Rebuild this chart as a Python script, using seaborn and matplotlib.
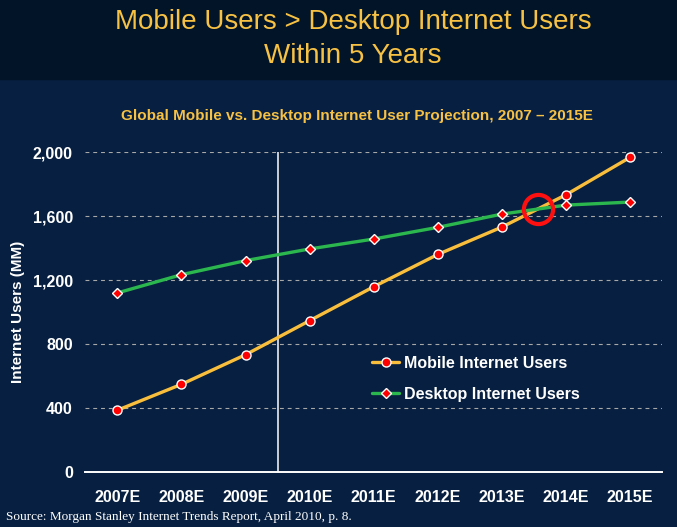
import numpy as np
import pandas as pd
import matplotlib
matplotlib.use("Agg")
import matplotlib.pyplot as plt
import seaborn as sns

# data (MM users)
years = ["2007E", "2008E", "2009E", "2010E", "2011E", "2012E", "2013E", "2014E", "2015E"]
mobile = [388, 550, 735, 948, 1160, 1362, 1533, 1735, 1969]
desktop = [1121, 1235, 1323, 1396, 1458, 1531, 1614, 1670, 1689]
y_ticks = [0, 400, 800, 1200, 1600, 2000]

# colours
bg = "#071f40"
band = "#011428"
yellow = "#f9be3c"
green = "#2cb64e"
title_col = "#f7c144"

sns.set_style("white")
plt.rcParams["font.family"] = ["Liberation Sans", "DejaVu Sans"]

df = pd.DataFrame({"year": years, "mobile": mobile, "desktop": desktop})

W, H = 677, 527
fig = plt.figure(figsize=(W / 100, H / 100), dpi=100, facecolor=bg)

# dark band behind the title
fig.patches.append(plt.Rectangle((0, 1 - 79 / H), 1, 79 / H, transform=fig.transFigure,
                                 color=band, zorder=0))

ax = fig.add_axes([85.3 / W, (H - 472.3) / H, 577 / W, 320 / H])
ax.set_facecolor(bg)

sns.lineplot(data=df, x="year", y="mobile", ax=ax, color=yellow, lw=2.4,
             marker="o", markersize=6.5, markerfacecolor="red", markeredgecolor="white",
             markeredgewidth=1.0, label="Mobile Internet Users", zorder=4)
sns.lineplot(data=df, x="year", y="desktop", ax=ax, color=green, lw=2.4,
             marker="D", markersize=5.5, markerfacecolor="red", markeredgecolor="white",
             markeredgewidth=1.0, label="Desktop Internet Users", zorder=4)

# crossover circle, from where the two series cross
diff = np.array(mobile) - np.array(desktop)
i = int(np.where(np.diff(np.sign(diff)) != 0)[0][0])
t = -diff[i] / (diff[i + 1] - diff[i])
cx = i + t
cy = desktop[i] + t * (desktop[i + 1] - desktop[i])
ax.plot([cx], [cy], marker="o", markersize=21, markerfacecolor="none",
        markeredgecolor="#ff1010", markeredgewidth=3, zorder=6)

ax.set_xlim(-0.5, len(years) - 0.5)
ax.set_ylim(0, 2000)
ax.set_yticks(y_ticks)
ax.set_yticklabels([f"{v:,}" for v in y_ticks])
ax.set_xlabel("")
ax.set_ylabel("Internet Users (MM)", color="white", fontsize=11, fontweight="bold")
ax.yaxis.set_label_coords((25 - 85.3) / 577, 0.5)

for v in y_ticks[1:]:
    ax.axhline(v, color="#a8a8a8", lw=0.8, ls=(0, (3.5, 3.5)), zorder=1)
ax.axvline(2.5, color="white", lw=1.1, zorder=2)

for s in ["top", "left", "right"]:
    ax.spines[s].set_visible(False)
ax.spines["bottom"].set_color("white")
ax.spines["bottom"].set_linewidth(1.4)

ax.set_xticks(np.arange(-0.5, len(years)), minor=True)
ax.tick_params(axis="x", which="minor", length=5, width=1.2, color="white", direction="out")
ax.tick_params(axis="x", which="major", length=0, pad=13, labelcolor="white", labelsize=11.5)
ax.tick_params(axis="y", length=0, pad=9, labelcolor="white", labelsize=11.5)
for lab in ax.get_xticklabels() + ax.get_yticklabels():
    lab.set_fontweight("bold")

leg = ax.legend(loc="upper left", bbox_to_anchor=(372 / W, 1 - 356 / H),
                bbox_transform=fig.transFigure, frameon=False, borderpad=0,
                borderaxespad=0, handlelength=1.7, handletextpad=0.3, labelspacing=1.0,
                prop={"weight": "bold", "size": 11.5})
for txt in leg.get_texts():
    txt.set_color("white")

# titles
fig.text(353 / W, 1 - 29 / H, "Mobile Users > Desktop Internet Users", ha="center",
         va="baseline", color=title_col, fontsize=20)
fig.text(353 / W, 1 - 63 / H, "Within 5 Years", ha="center", va="baseline",
         color=title_col, fontsize=20)
fig.text(357 / W, 1 - 120 / H, "Global Mobile vs. Desktop Internet User Projection, 2007 \u2013 2015E",
         ha="center", va="baseline", color=title_col, fontsize=11, fontweight="bold")
fig.text(6 / W, 1 - 520 / H, "Source: Morgan Stanley Internet Trends Report, April 2010, p. 8.",
         ha="left", va="baseline", color="white", fontsize=9.5, family="Liberation Serif")

fig.savefig("out.png", dpi=100, facecolor=bg)
